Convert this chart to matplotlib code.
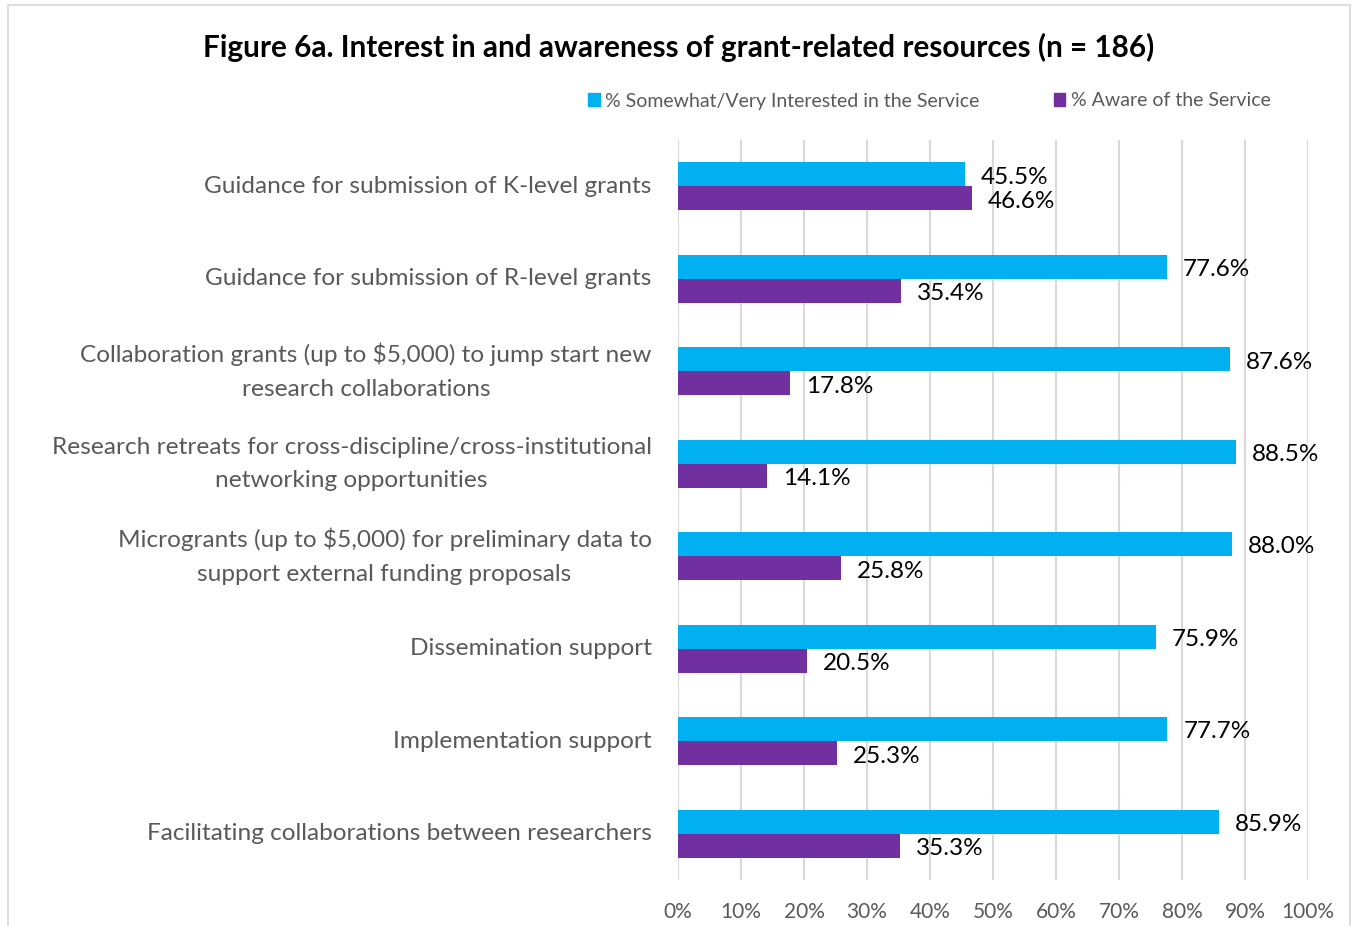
import matplotlib
matplotlib.use("Agg")
from matplotlib import pyplot as plt
from matplotlib.patches import Rectangle, Patch
import numpy as np

categories = [
    "Guidance for submission of K-level grants",
    "Guidance for submission of R-level grants",
    "Collaboration grants (up to $5,000) to jump start new\nresearch collaborations",
    "Research retreats for cross-discipline/cross-institutional\nnetworking opportunities",
    "Microgrants (up to $5,000) for preliminary data to\nsupport external funding proposals",
    "Dissemination support",
    "Implementation support",
    "Facilitating collaborations between researchers",
]
interested = [45.5, 77.6, 87.6, 88.5, 88.0, 75.9, 77.7, 85.9]
aware = [46.6, 35.4, 17.8, 14.1, 25.8, 20.5, 25.3, 35.3]
xticks = list(range(0, 101, 10))

BLUE = "#00B0F0"
PURPLE = "#7030A0"
GRAY = "#595959"

plt.rcParams["font.family"] = ["Lato", "DejaVu Sans"]

fig = plt.figure(figsize=(13.53, 9.26), dpi=100)
ax = fig.add_axes([0.5011, 0.0497, 0.4656, 0.7991])

# outer chart frame
fig.patches.append(Rectangle((8 / 1353, -0.01), 1342 / 1353, 1 - 5 / 926 + 0.01,
                             transform=fig.transFigure, fill=False,
                             edgecolor="#d9d9d9", linewidth=1.2))

y = np.arange(len(categories))
h = 0.26
ax.barh(y - h / 2, interested, height=h, color=BLUE, zorder=3)
ax.barh(y + h / 2, aware, height=h, color=PURPLE, zorder=3)

for i in range(len(categories)):
    ax.annotate("%.1f%%" % interested[i], (interested[i], y[i] - h / 2),
                xytext=(11.5, -2), textcoords="offset points", va="center",
                ha="left", fontsize=17.5, color="black")
    ax.annotate("%.1f%%" % aware[i], (aware[i], y[i] + h / 2),
                xytext=(11.5, -2), textcoords="offset points", va="center",
                ha="left", fontsize=17.5, color="black")

ax.set_ylim(len(categories) - 0.5, -0.5)
ax.set_xlim(0, 100)
ax.set_xticks(xticks)
ax.set_xticklabels(["%d%%" % t for t in xticks], fontsize=15, color=GRAY)
ax.set_yticks(y)
ax.set_yticklabels(categories, fontsize=17.6, color=GRAY, linespacing=1.72,
                   ha="right", va="center", multialignment="center")
ax.tick_params(axis="y", length=0, pad=19)
ax.tick_params(axis="x", length=0, pad=16)
ax.grid(axis="x", color="#d9d9d9", linewidth=1.5, zorder=0)
for s in ax.spines.values():
    s.set_visible(False)

fig.text(0.5015, 1 - 47 / 926, "Figure 6a. Interest in and awareness of grant-related resources (n = 186)",
         ha="center", va="center", fontsize=21.4, fontweight="bold")

handles = [Patch(color=BLUE, label="% Somewhat/Very Interested in the Service"),
           Patch(color=PURPLE, label="% Aware of the Service")]
fig.legend(handles=handles, loc="center", bbox_to_anchor=(0.687, 1 - 101 / 926),
           ncol=2, frameon=False, fontsize=14, handlelength=0.6, handleheight=0.6,
           handletextpad=0.3, columnspacing=3.8, labelcolor=GRAY)

fig.savefig("out.png", dpi=100)
